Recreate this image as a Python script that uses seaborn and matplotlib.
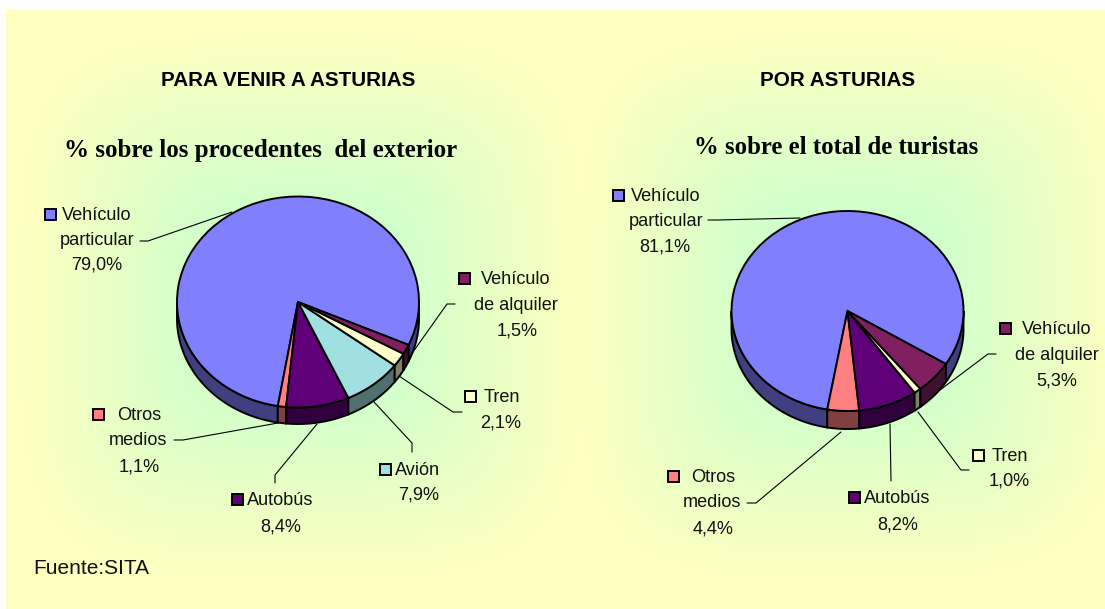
import numpy as np
import matplotlib
matplotlib.use("Agg")
import matplotlib.pyplot as plt
from matplotlib.patches import Polygon, Rectangle
import seaborn as sns

# ---------- data ----------
title_left = "PARA VENIR A ASTURIAS"
subtitle_left = "% sobre los procedentes  del exterior"
title_right = "POR ASTURIAS"
subtitle_right = "% sobre el total de turistas"
source = "Fuente:SITA"

cats_left = ["Vehículo particular", "Otros medios", "Autobús", "Avión", "Tren", "Vehículo de alquiler"]
vals_left = [79.0, 1.1, 8.4, 7.9, 2.1, 1.5]
cats_right = ["Vehículo particular", "Otros medios", "Autobús", "Tren", "Vehículo de alquiler"]
vals_right = [81.1, 4.4, 8.2, 1.0, 5.3]

colour_of = {
    "Vehículo particular": "#8080FF",
    "Otros medios": "#FF8080",
    "Autobús": "#600078",
    "Avión": "#A0E0E0",
    "Tren": "#FFFFCC",
    "Vehículo de alquiler": "#802060",
}
lines_of = {
    "Vehículo particular": ["Vehículo", "particular"],
    "Otros medios": ["Otros", "medios"],
    "Autobús": ["Autobús"],
    "Avión": ["Avión"],
    "Tren": ["Tren"],
    "Vehículo de alquiler": ["Vehículo", "de alquiler"],
}

# ---------- layout (pixels of the 1105x609 picture) ----------
W, H = 1105, 609
sns.set_theme(style="white")
plt.rcParams["font.family"] = ["Liberation Sans", "DejaVu Sans"]
LW = 1.4
LABEL_PT = 13.1

fig = plt.figure(figsize=(W / 100, H / 100), dpi=100, facecolor="white")

bg = fig.add_axes([0, 0, 1, 1], zorder=0)
bg.set_xlim(0, W); bg.set_ylim(H, 0); bg.axis("off")
fg = fig.add_axes([0, 0, 1, 1], zorder=5)
fg.set_xlim(0, W); fg.set_ylim(H, 0); fg.axis("off"); fg.patch.set_alpha(0)

# background gradient
yy, xx = np.mgrid[0:H, 0:W]
def panel(cx, wx, cy, wy):
    d = ((np.abs(xx - cx) / wx) ** 4 + (np.abs(yy - cy) / wy) ** 4) ** (1 / 4)
    return np.clip(1 - d, 0, 1)
t = np.maximum(panel(300, 285, 305, 275), panel(850, 275, 305, 275))
t = np.clip(t[..., None] / 0.72, 0, 1)
yellow = np.array(matplotlib.colors.to_rgb("#FFFFC0"))
green = np.array(matplotlib.colors.to_rgb("#CCFFCC"))
img = yellow * (1 - t) + green * t
bg.imshow(img, extent=(0, W, H, 0), aspect="auto", zorder=0, interpolation="bilinear")
bg.add_patch(Rectangle((0, 0), 6, H, fc="white", ec="none", zorder=1))
bg.add_patch(Rectangle((0, 0), W, 10, fc="white", ec="none", zorder=1))
bg.set_xlim(0, W); bg.set_ylim(H, 0)


def draw_pie(cats, vals, startangle, cx, cy, a, b, depth):
    pal = sns.color_palette([colour_of[c] for c in cats])
    dark = [tuple(0.5 * np.array(c)) for c in pal]
    m = 1.3
    ax = fig.add_axes([(cx - m * a) / W, 1 - (cy + m * b) / H, 2 * m * a / W, 2 * m * b / H], zorder=2)
    ax.patch.set_alpha(0)
    d = depth / b
    bounds = startangle + np.cumsum([0] + list(vals)) * 3.6
    for i in range(len(vals)):
        for lo, hi in ((-180, 0), (180, 360)):
            s, e = max(bounds[i], lo), min(bounds[i + 1], hi)
            if e <= s:
                continue
            th = np.radians(np.linspace(s, e, 80))
            top = np.c_[np.cos(th), np.sin(th)]
            bot = (top - [0, d])[::-1]
            ax.add_patch(Polygon(np.r_[top, bot], closed=True, fc=dark[i], ec="black", lw=LW, zorder=1))
    wedges, _ = ax.pie(vals, colors=pal, startangle=startangle, counterclock=True, radius=1,
                       wedgeprops=dict(edgecolor="black", linewidth=LW, zorder=2))
    ax.set_aspect("auto")
    ax.set_xlim(-m, m); ax.set_ylim(-m, m)
    ax.axis("off")


draw_pie(cats_left, vals_left, -24, 298, 302, 121, 105.5, 16.5)
draw_pie(cats_right, vals_right, -32, 847.5, 311, 116, 100, 18)


def pct(v):
    return f"{v:.1f}%".replace(".", ",")


def label(cat, val, key_xy, centers):
    """centers: (x, y) of each line of the label."""
    kx, ky = key_xy
    fg.add_patch(Rectangle((kx - 5, ky - 5), 10.5, 10.5, fc=colour_of[cat], ec="black", lw=LW))
    for s, (x, y) in zip(lines_of[cat] + [pct(val)], centers):
        fg.text(x, y + 1.5, s, ha="center", va="center", fontsize=LABEL_PT, color="#111111")


def leader(*pts):
    xs, ys = zip(*pts)
    fg.plot(xs, ys, color="black", lw=0.8, solid_joinstyle="miter")


L = dict(zip(cats_left, vals_left))
label("Vehículo particular", L["Vehículo particular"], (50, 214), [(97, 214), (97, 239), (97, 264)])
label("Vehículo de alquiler", L["Vehículo de alquiler"], (464, 278), [(516, 278), (516, 304), (517, 329)])
label("Tren", L["Tren"], (470, 396), [(502, 396), (501, 422)])
label("Avión", L["Avión"], (385, 469), [(418, 469), (419, 494)])
label("Autobús", L["Autobús"], (237, 499), [(280, 499), (281, 525)])
label("Otros medios", L["Otros medios"], (98, 414), [(139, 414), (138, 439), (139, 465)])
leader((140, 241), (148, 241), (232, 212))
leader((455, 304), (447, 304), (408, 359))
leader((462, 412), (453, 412), (399, 376))
leader((412, 452), (412, 443), (374, 402))
leader((275, 483), (275, 475), (317, 424))
leader((174, 440), (183, 440), (278, 423))

R = dict(zip(cats_right, vals_right))
label("Vehículo particular", R["Vehículo particular"], (618, 195), [(666, 195), (666, 220), (665, 245)])
label("Vehículo de alquiler", R["Vehículo de alquiler"], (1005, 328), [(1057, 328), (1057, 354), (1057, 379)])
label("Tren", R["Tren"], (978, 455), [(1010, 455), (1009, 480)])
label("Autobús", R["Autobús"], (854, 497), [(897, 497), (898, 523)])
label("Otros medios", R["Otros medios"], (673, 476), [(713, 476), (712, 501), (713, 527)])
leader((708, 220), (718, 220), (800, 218))
leader((996, 354), (988, 354), (940, 390))
leader((969, 470), (961, 470), (918, 412))
leader((891, 481), (890, 424))
leader((747, 503), (756, 503), (841, 432))

fg.text(288.5, 81, title_left, ha="center", va="center", fontsize=14.9, fontweight="bold", color="black")
fg.text(838, 81, title_right, ha="center", va="center", fontsize=14.9, fontweight="bold", color="black")
fg.text(261, 151, subtitle_left, ha="center", va="center", fontsize=18, fontweight="bold",
        family=["Liberation Serif", "DejaVu Serif"], color="black")
fg.text(836, 148, subtitle_right, ha="center", va="center", fontsize=17.8, fontweight="bold",
        family=["Liberation Serif", "DejaVu Serif"], color="black")
fg.text(33, 569, source, ha="left", va="center", fontsize=15, color="#111111")

fig.savefig("out.png", dpi=100, facecolor="white")
